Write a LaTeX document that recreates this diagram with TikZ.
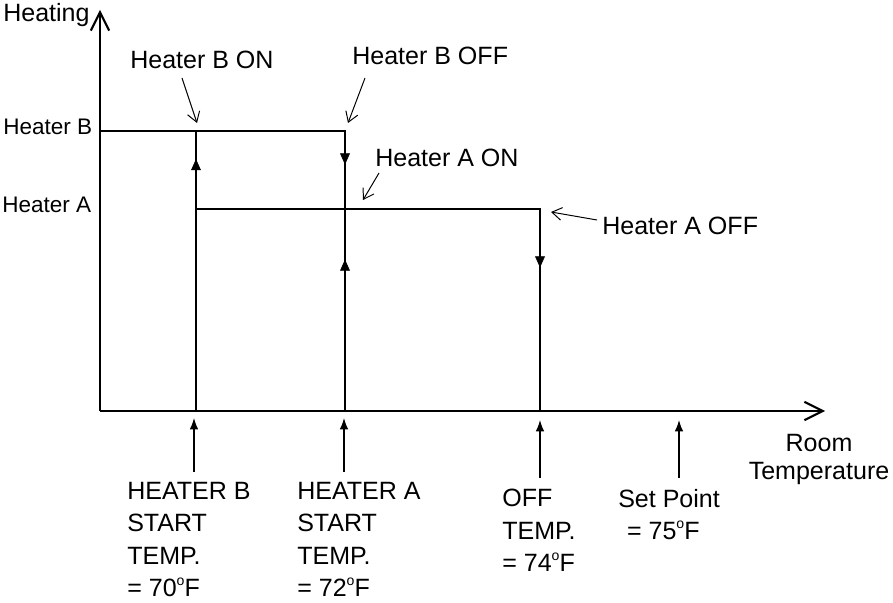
\documentclass[tikz,border=0pt]{standalone}
\usepackage{fontspec}
\setmainfont{Liberation Sans}
\usetikzlibrary{arrows.meta}
\usetikzlibrary{decorations.markings}
\tikzset{>=latex}
\newcommand{\degF}{\raisebox{0.45em}{\fontsize{10}{10}\selectfont o}F}
\tikzset{axis/.style = {line width=1.5pt,-{Straight Barb[length=13pt,width=13pt]}}}
\tikzset{level/.style = {line width=1.7pt,line cap=rect}}
\tikzset{flow/.style = {postaction={decorate},decoration={markings,mark=at position #1 with {\arrow[line width=0.4pt]{Triangle[length=8pt,width=7pt]}}}}}
\tikzset{note/.style = {line width=0.7pt,-{Straight Barb[length=7pt,width=9pt]}}}
\tikzset{pointer/.style = {line width=0.9pt,-{Latex[length=8pt,width=6pt]}}}
\tikzset{lbl/.style = {inner sep=0pt,font=\fontsize{17.8}{23}\selectfont}}
\tikzset{side/.style = {inner sep=0pt,font=\fontsize{16}{20}\selectfont}}

\begin{document}
\begin{tikzpicture}[x=0.025cm,y=-0.025cm]
                    \useasboundingbox (0,0) rectangle (893,603);

                    % axes
                    \coordinate (O) at (100,411);
                    \coordinate (ytop) at (100,10);
                    \coordinate (xtip) at (825,411);
                    \draw[axis] (O) -- (ytop);
                    \draw[axis] (O) -- (xtip);

                    \node[lbl,anchor=base west] (heating) at (3,22) {Heating};
                    \node[side,anchor=base west] (hb) at (3,135) {Heater B};
                    \node[side,anchor=base west] (ha) at (2,213) {Heater A};

                    % heater levels
                    \coordinate (HB) at (100,131);
                    \coordinate (b1) at (196,131);
                    \coordinate (b2) at (345,131);
                    \coordinate (a1) at (196,209);
                    \coordinate (a2) at (345,209);
                    \coordinate (a3) at (540,209);
                    \coordinate (t70) at (196,411);
                    \coordinate (t72) at (345,411);
                    \coordinate (t74) at (540,411);

                    \draw[level] (HB) -- (b2);
                    \draw[level,flow=0.12] (b2) -- (t72);
                    \draw[level,flow=0.75] (t72) -- (a2);
                    \draw[level,flow=0.9] (t70) -- (b1);
                    \draw[level] (a1) -- (a3);
                    \draw[level,flow=0.29] (a3) -- (t74);

                    % top labels
                    \node[lbl,anchor=base west] (bon) at (130,69) {Heater B ON};
                    \node[lbl,anchor=base west] (boff) at (352,65) {Heater B OFF};
                    \node[lbl,anchor=base west] (aon) at (375,167) {Heater A ON};
                    \node[lbl,anchor=base west] (aoff) at (602,235) {Heater A OFF};

                    \coordinate (bonT) at (182,78);
                    \coordinate (bonH) at (197,123);
                    \coordinate (boffT) at (365,78);
                    \coordinate (boffH) at (348,123);
                    \coordinate (aonT) at (379,173);
                    \coordinate (aonH) at (363,200);
                    \coordinate (aoffT) at (597,220);
                    \coordinate (aoffH) at (551,212);
                    \draw[note] (bonT) -- (bonH);
                    \draw[note] (boffT) -- (boffH);
                    \draw[note] (aonT) -- (aonH);
                    \draw[note] (aoffT) -- (aoffH);

                    % bottom labels
                    \node[lbl,anchor=north west,align=left] (sb) at (127,482) {HEATER B\\START\\TEMP.\\= 70\degF};
                    \node[lbl,anchor=north west,align=left] (sa) at (297,482) {HEATER A\\START\\TEMP.\\= 72\degF};
                    \node[lbl,anchor=north west,align=left] (off) at (502,489) {OFF\\TEMP.\\= 74\degF};
                    \node[lbl,anchor=north west,align=left] (sp) at (618,489) {Set Point\\\hspace*{0.35em}= 75\degF};
                    \node[lbl,anchor=north,align=center,font=\fontsize{17.8}{20}\selectfont] (room) at (819,434) {Room\\Temperature};

                    \coordinate (p70) at (194,472);
                    \coordinate (q70) at (194,418);
                    \coordinate (p72) at (344,472);
                    \coordinate (q72) at (344,418);
                    \coordinate (p74) at (540,478);
                    \coordinate (q74) at (540,420);
                    \coordinate (p75) at (679,478);
                    \coordinate (q75) at (679,420);
                    \draw[pointer] (p70) -- (q70);
                    \draw[pointer] (p72) -- (q72);
                    \draw[pointer] (p74) -- (q74);
                    \draw[pointer] (p75) -- (q75);
                \end{tikzpicture}
\end{document}
